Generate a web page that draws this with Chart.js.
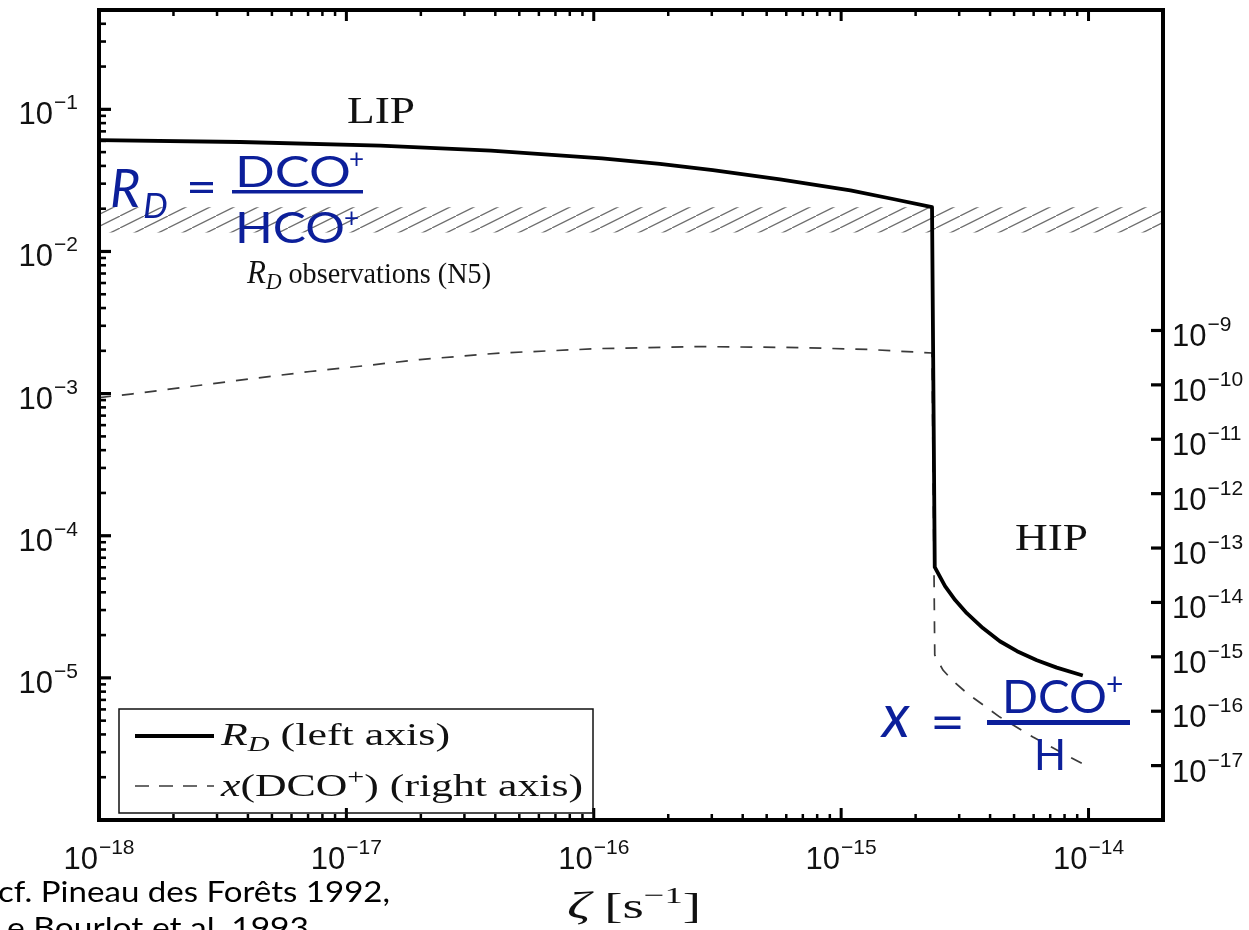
<!DOCTYPE html>
<html>
<head>
<meta charset="utf-8">
<script src="https://cdn.jsdelivr.net/npm/chart.js@4.4.1/dist/chart.umd.min.js"></script>
<style>
html,body{margin:0;padding:0;background:#fff;}
#wrap{width:1249px;height:930px;position:relative;overflow:hidden;}
canvas{display:block;}
</style>
</head>
<body>
<div id="wrap"><canvas id="c" width="1249" height="930"></canvas></div>
<script>
// ---------------- data ----------------
// R_D = DCO+/HCO+ (left axis) versus cosmic-ray ionisation rate zeta
const zetaRD = [1e-18, 3.72e-18, 1.37e-17, 3.84e-17, 1.08e-16, 1.85e-16, 3.03e-16, 5.66e-16, 1.09e-15, 1.62e-15, 2.33e-15,
                2.39e-15, 2.63e-15, 2.89e-15, 3.22e-15, 3.74e-15, 4.38e-15, 5.14e-15, 6.18e-15, 7.44e-15, 9.48e-15];
const rdValues = [0.0608, 0.0589, 0.0556, 0.0513, 0.0452, 0.0414, 0.0374, 0.0322, 0.0269, 0.0234, 0.0205,
                  6.01e-5, 4.42e-5, 3.53e-5, 2.85e-5, 2.24e-5, 1.81e-5, 1.54e-5, 1.33e-5, 1.18e-5, 1.04e-5];

// x(DCO+) = DCO+/H (right axis)
const zetaX = [1e-18, 1.37e-18, 2.33e-18, 4.08e-18, 7.13e-18, 1.25e-17, 1.98e-17, 4.17e-17, 1.06e-16, 2.68e-16,
               6.8e-16, 1.31e-15, 2.33e-15, 2.39e-15, 2.58e-15, 2.81e-15, 3.22e-15, 4.38e-15, 5.96e-15, 8.41e-15, 9.66e-15];
const xDcoValues = [5.85e-11, 6.84e-11, 9.31e-11, 1.29e-10, 1.76e-10, 2.31e-10, 2.92e-10, 3.85e-10, 4.65e-10, 5.06e-10,
                    4.85e-10, 4.46e-10, 3.85e-10, 1.08e-15, 5.7e-16, 3.75e-16, 2.16e-16, 7.8e-17, 3.36e-17, 1.44e-17, 1.03e-17];

// observed R_D band (N5)
const bandZeta = [1e-18, 2e-14];
const bandLow = [0.0136, 0.0136];
const bandHigh = [0.0205, 0.0205];

// tick labels (exponents of 10)
const xTickExps = [-18, -17, -16, -15, -14];
const leftTickExps = [-1, -2, -3, -4, -5];
const rightTickExps = [-9, -10, -11, -12, -13, -14, -15, -16, -17];

const seriesNames = ['R_D (left axis)', 'x(DCO+) (right axis)'];

// ---------------- helpers ----------------
function pts(xs, ys) { return xs.map((v, i) => ({x: v, y: ys[i]})); }

function hatchPattern() {
  const c = document.createElement('canvas');
  c.width = 24; c.height = 12;
  const g = c.getContext('2d');
  g.strokeStyle = '#6f6f6f';
  g.lineWidth = 1.3;
  g.beginPath();
  g.moveTo(-12, 18); g.lineTo(36, -6);
  g.stroke();
  return document.getElementById('c').getContext('2d').createPattern(c, 'repeat');
}

function drawRich(ctx, x, baseline, segs, opt) {
  opt = opt || {};
  let total = 0;
  const widths = segs.map(s => { ctx.font = s.font; const w = ctx.measureText(s.t).width + (s.dx || 0); total += w; return w; });
  const sx = opt.width ? opt.width / total : 1;
  const w = total * sx;
  let x0 = x;
  if (opt.align === 'right') x0 = x - w; else if (opt.align === 'center') x0 = x - w / 2;
  ctx.save();
  ctx.translate(x0, baseline);
  ctx.scale(sx, 1);
  ctx.fillStyle = opt.color || '#111';
  ctx.textAlign = 'left';
  ctx.textBaseline = 'alphabetic';
  let cx = 0;
  segs.forEach((s, i) => { ctx.font = s.font; ctx.fillText(s.t, cx + (s.dx || 0), s.dy || 0); cx += widths[i]; });
  ctx.restore();
  return w;
}

const SANS = '"Liberation Sans", Arial, sans-serif';
const SERIF = '"Liberation Serif", "DejaVu Serif", serif';
const GILL = 'Lato, "Open Sans", sans-serif';
const BLUE = '#0c1f9a';

function powLabel(ctx, exp, x, baseline, align) {
  return drawRich(ctx, x, baseline, [
    {t: '10', font: '31px ' + SANS},
    {t: '\u2212' + Math.abs(exp), font: '21px ' + SANS, dy: -15, dx: 1}
  ], {align: align, color: '#111'});
}

const overlay = {
  id: 'overlay',
  afterDraw(chart) {
    const ctx = chart.ctx, a = chart.chartArea;
    const X = chart.scales.x, Y = chart.scales.y, Y2 = chart.scales.y2;
    ctx.save();
    ctx.strokeStyle = '#000';
    ctx.lineCap = 'butt';

    // x ticks (bottom + top)
    for (let e = -18; e <= -14; e++) {
      for (let m = 1; m <= 9; m++) {
        const v = m * Math.pow(10, e);
        if (v < X.min * 0.999 || v >= X.max * 0.999) continue;
        const px = X.getPixelForValue(v);
        const major = (m === 1 && xTickExps.includes(e));
        ctx.lineWidth = major ? 3 : 2.5;
        const len = major ? 12 : 6;
        ctx.beginPath();
        ctx.moveTo(px, a.bottom); ctx.lineTo(px, a.bottom - len);
        ctx.moveTo(px, a.top); ctx.lineTo(px, a.top + (major ? 11 : 6));
        ctx.stroke();
      }
    }
    // left ticks
    for (let e = -6; e <= 0; e++) {
      for (let m = 1; m <= 9; m++) {
        const v = m * Math.pow(10, e);
        if (v <= Y.min * 1.001 || v >= Y.max * 0.999) continue;
        const py = Y.getPixelForValue(v);
        const major = (m === 1 && leftTickExps.includes(e));
        ctx.lineWidth = major ? 3.2 : 2.6;
        ctx.beginPath();
        ctx.moveTo(a.left, py); ctx.lineTo(a.left + (major ? 12 : 7), py);
        ctx.stroke();
      }
    }
    // right ticks (decades only)
    rightTickExps.forEach(e => {
      const py = Y2.getPixelForValue(Math.pow(10, e));
      ctx.lineWidth = 3.2;
      ctx.beginPath();
      ctx.moveTo(a.right, py); ctx.lineTo(a.right - 12, py);
      ctx.stroke();
    });

    // frame
    ctx.lineWidth = 4;
    ctx.strokeRect(a.left, a.top, a.right - a.left, a.bottom - a.top);

    // tick labels
    xTickExps.forEach(e => powLabel(ctx, e, X.getPixelForValue(Math.pow(10, e)), a.bottom + 49, 'center'));
    leftTickExps.forEach(e => powLabel(ctx, e, 78, Y.getPixelForValue(Math.pow(10, e)) + 15, 'right'));
    rightTickExps.forEach(e => powLabel(ctx, e, a.right + 9, Y2.getPixelForValue(Math.pow(10, e)) + 16, 'left'));

    // legend box
    const ds = chart.data.datasets;
    ctx.lineWidth = 1.5;
    ctx.strokeStyle = '#111';
    ctx.strokeRect(119, 709, 474, 104);
    ctx.strokeStyle = ds[0].borderColor; ctx.lineWidth = ds[0].borderWidth; ctx.setLineDash([]);
    ctx.beginPath(); ctx.moveTo(135, 736); ctx.lineTo(214, 736); ctx.stroke();
    ctx.strokeStyle = ds[1].borderColor; ctx.lineWidth = ds[1].borderWidth; ctx.setLineDash([14, 10]);
    ctx.beginPath(); ctx.moveTo(135, 786); ctx.lineTo(214, 786); ctx.stroke();
    ctx.setLineDash([]);
    drawRich(ctx, 221, 745, [
      {t: 'R', font: 'italic 32px ' + SERIF},
      {t: 'D', font: 'italic 22px ' + SERIF, dy: 6},
      {t: ' (left axis)', font: '32px ' + SERIF}
    ], {width: 229});
    drawRich(ctx, 221, 796, [
      {t: 'x', font: 'italic 32px ' + SERIF},
      {t: '(DCO', font: '32px ' + SERIF},
      {t: '+', font: '22px ' + SERIF, dy: -12},
      {t: ') (right axis)', font: '32px ' + SERIF}
    ], {width: 362});

    // region labels
    drawRich(ctx, 347, 123, [{t: 'LIP', font: '37px ' + SERIF}], {width: 68});
    drawRich(ctx, 1015, 550, [{t: 'HIP', font: '37px ' + SERIF}], {width: 73});
    drawRich(ctx, 247, 283, [
      {t: 'R', font: 'italic 33px ' + SERIF},
      {t: 'D', font: 'italic 23px ' + SERIF, dy: 6},
      {t: ' observations (N5)', font: '30px ' + SERIF}
    ], {width: 244});

    // x-axis title
    drawRich(ctx, 567, 918, [
      {t: '\u03B6', font: 'italic 38px ' + SERIF},
      {t: ' [s', font: '36px ' + SERIF},
      {t: '\u22121', font: '24px ' + SERIF, dy: -15},
      {t: ']', font: '36px ' + SERIF}
    ], {width: 134});

    // citation
    drawRich(ctx, -2, 902, [{t: 'cf. Pineau des For\u00EAts 1992,', font: '29px ' + GILL}], {width: 392, color: '#000'});
    drawRich(ctx, -9, 938, [{t: 'Le Bourlot et al. 1993', font: '29px ' + GILL}], {width: 318, color: '#000'});

    // blue formula: R_D = DCO+/HCO+
    drawRich(ctx, 110, 207, [{t: 'R', font: 'italic 52px ' + GILL}], {color: BLUE});
    drawRich(ctx, 143, 218, [{t: 'D', font: 'italic 35px ' + GILL}], {color: BLUE});
    drawRich(ctx, 186, 203, [{t: '=', font: '46px ' + GILL}], {color: BLUE, width: 31});
    drawRich(ctx, 235, 187, [{t: 'DCO', font: '42px ' + GILL}], {color: BLUE, width: 116});
    drawRich(ctx, 349, 168, [{t: '+', font: '26px ' + GILL}], {color: BLUE});
    ctx.fillStyle = BLUE;
    ctx.fillRect(232, 190, 131, 3.5);
    drawRich(ctx, 235, 243, [{t: 'HCO', font: '42px ' + GILL}], {color: BLUE, width: 110});
    drawRich(ctx, 344, 227, [{t: '+', font: '26px ' + GILL}], {color: BLUE});

    // blue formula: x = DCO+/H
    drawRich(ctx, 882, 737, [{t: 'x', font: 'italic 60px ' + GILL}], {color: BLUE});
    drawRich(ctx, 930, 741, [{t: '=', font: '52px ' + GILL}], {color: BLUE, width: 35});
    drawRich(ctx, 1002, 713, [{t: 'DCO', font: '46px ' + GILL}], {color: BLUE, width: 105});
    drawRich(ctx, 1106, 695, [{t: '+', font: '30px ' + GILL}], {color: BLUE});
    ctx.fillStyle = BLUE;
    ctx.fillRect(987, 720, 143, 5);
    drawRich(ctx, 1034, 770, [{t: 'H', font: '42px ' + GILL}], {color: BLUE});

    ctx.restore();
  }
};

const chart = new Chart(document.getElementById('c'), {
  type: 'line',
  data: {
    datasets: [
      {label: seriesNames[0], data: pts(zetaRD, rdValues), yAxisID: 'y',
       borderColor: '#000', borderWidth: 3.8, pointRadius: 0, tension: 0,
       borderJoinStyle: 'round', fill: false},
      {label: seriesNames[1], data: pts(zetaX, xDcoValues), yAxisID: 'y2',
       borderColor: '#3a3a3a', borderWidth: 1.7, borderDash: [12, 11], pointRadius: 0,
       tension: 0, fill: false},
      {label: 'band low', data: pts(bandZeta, bandLow), yAxisID: 'y',
       borderColor: 'rgba(0,0,0,0)', borderWidth: 1, pointRadius: 0, fill: false},
      {label: 'band high', data: pts(bandZeta, bandHigh), yAxisID: 'y',
       borderColor: 'rgba(0,0,0,0)', borderWidth: 1, pointRadius: 0, fill: '-1',
       backgroundColor: hatchPattern()}
    ]
  },
  options: {
    responsive: false,
    animation: false,
    devicePixelRatio: 1,
    layout: {padding: {left: 99, top: 10, right: 86, bottom: 110}},
    plugins: {legend: {display: false}, tooltip: {enabled: false}},
    events: [],
    scales: {
      x: {type: 'logarithmic', min: 1e-18, max: 2e-14, display: false, bounds: 'data'},
      y: {type: 'logarithmic', min: 1e-6, max: 0.5, display: false, bounds: 'data'},
      y2: {type: 'logarithmic', position: 'right', min: 1e-18, max: 7.8e-4, display: false, bounds: 'data'}
    }
  },
  plugins: [overlay]
});
</script>
</body>
</html>
